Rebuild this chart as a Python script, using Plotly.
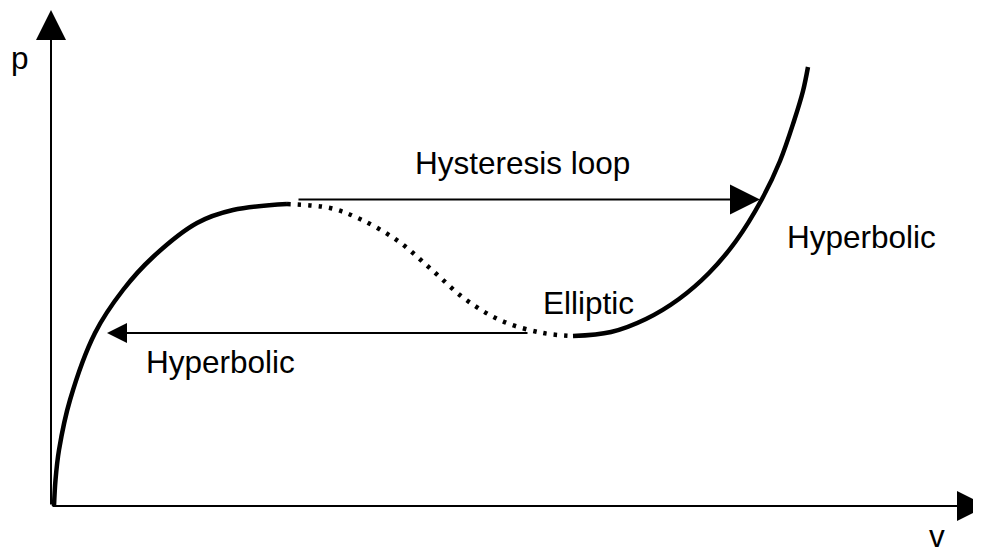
import plotly.graph_objects as go

# ---- data (v, p) ----
# stable (hyperbolic) left branch: rises from origin to local maximum
left_v = [0.03, 0.045, 0.08, 0.19, 0.44, 0.72, 1.02, 1.46, 1.82, 2.36]
left_p = [0.00, 0.26, 0.56, 1.06, 1.73, 2.16, 2.49, 2.83, 2.96, 3.02]

# unstable (elliptic) middle branch, drawn dotted
mid_v = [2.36, 2.79, 3.09, 3.47, 3.81, 4.14, 4.51, 4.92, 5.22]
mid_p = [3.02, 2.98, 2.87, 2.65, 2.36, 2.07, 1.85, 1.73, 1.70]

# stable (hyperbolic) right branch
right_v = [5.22, 5.60, 5.95, 6.28, 6.58, 6.85, 7.11, 7.29, 7.43, 7.52, 7.57]
right_p = [1.70, 1.74, 1.87, 2.07, 2.33, 2.65, 3.07, 3.45, 3.85, 4.15, 4.39]

# hysteresis jumps: (v_from, v_to, p)
jump_up = (2.46, 7.09, 3.065)
jump_down = (4.78, 0.56, 1.73)

# axis extents
v_max, p_max = 9.36, 4.96

# labels: (text, v, p)
labels = [
    ("Hysteresis loop", 4.715, 3.435),
    ("Hyperbolic", 8.10, 2.695),
    ("Elliptic", 5.37, 2.035),
    ("Hyperbolic", 1.695, 1.445),
    ("p", -0.31, 4.485),
    ("v", 8.86, -0.30),
]

FONT = "Liberation Sans, Arial, sans-serif"

fig = go.Figure()
fig.add_trace(go.Scatter(x=left_v, y=left_p, mode="lines", line_shape="spline",
                         line=dict(color="black", width=4.5), hoverinfo="skip"))
fig.add_trace(go.Scatter(x=mid_v, y=mid_p, mode="lines", line_shape="spline",
                         line=dict(color="black", width=4.5, dash="3.5px,7px"),
                         hoverinfo="skip"))
fig.add_trace(go.Scatter(x=right_v, y=right_p, mode="lines", line_shape="spline",
                         line=dict(color="black", width=4.5), hoverinfo="skip"))

anns = []
def arrow(x0, y0, x1, y1, width, size):
    anns.append(dict(x=x1, y=y1, ax=x0, ay=y0, xref="x", yref="y",
                     axref="x", ayref="y", text="", showarrow=True,
                     arrowhead=2, arrowwidth=width, arrowsize=size,
                     arrowcolor="black", standoff=0, startstandoff=0))

arrow(0, 0, 0, p_max, 2, 3)          # p axis
arrow(0, 0, v_max, 0, 2, 3)          # v axis
arrow(jump_up[0], jump_up[2], jump_up[1], jump_up[2], 2, 3)
arrow(jump_down[0], jump_down[2], jump_down[1], jump_down[2], 2, 2)

for t, x, y in labels:
    anns.append(dict(x=x, y=y, xref="x", yref="y", text=t, showarrow=False,
                     xanchor="center", yanchor="middle",
                     font=dict(family=FONT, size=31.5, color="black")))

# ranges account for the 8px default page margin around the figure
fig.update_layout(
    width=981, height=550,
    margin=dict(l=0, r=0, t=0, b=0),
    paper_bgcolor="white", plot_bgcolor="white",
    showlegend=False,
    annotations=anns,
    xaxis=dict(range=[-0.43, 9.38], visible=False, fixedrange=True),
    yaxis=dict(range=[-0.52, 4.98], visible=False, fixedrange=True),
)

fig.write_html("out.html")
